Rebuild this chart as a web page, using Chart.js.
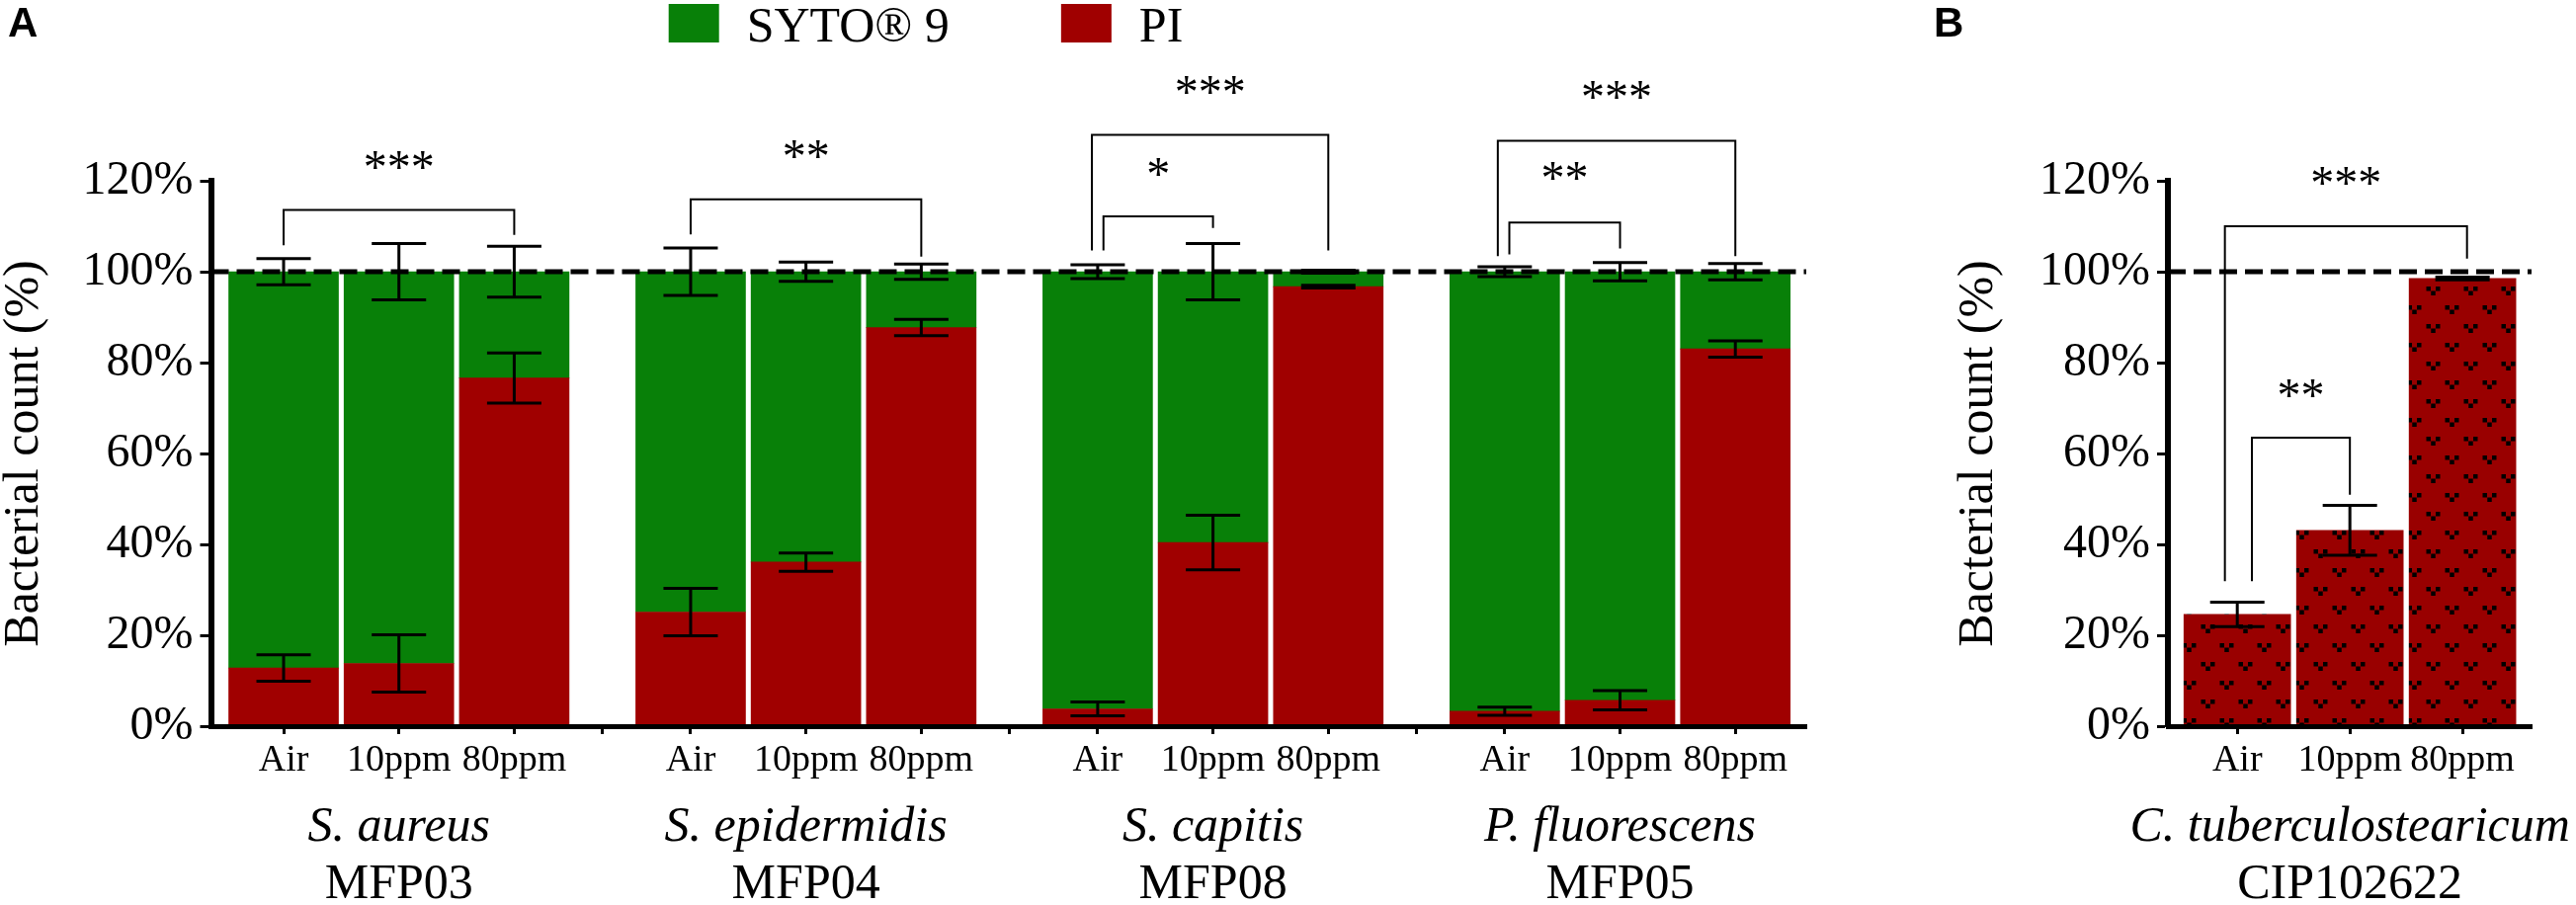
<!DOCTYPE html>
<html>
<head>
<meta charset="utf-8">
<title>Bacterial count - SYTO 9 / PI</title>
<script src="https://cdn.jsdelivr.net/npm/chart.js@4.4.1/dist/chart.umd.min.js"></script>
<style>
  html, body { margin: 0; padding: 0; background: #fff; }
  #wrap { position: relative; width: 2607px; height: 916px; }
  canvas { position: absolute; top: 0; }
  #chartA { left: 0; }
  #chartB { left: 1940px; }
</style>
</head>
<body>
<div id="wrap">
  <canvas id="chartA" width="1940" height="916"></canvas>
  <canvas id="chartB" width="667" height="916"></canvas>
</div>
<script>
// === Data (percent of total count) ===
const treatments = ['Air', '10ppm', '80ppm'];
const speciesA = ['S. aureus', 'S. epidermidis', 'S. capitis', 'P. fluorescens'];
const strainsA = ['MFP03', 'MFP04', 'MFP08', 'MFP05'];

// panel A, 4 strains x 3 treatments, PI stacked under SYTO 9
const piA      = [12.8, 13.8, 76.6, 25.1, 36.1, 87.7, 3.8, 40.4, 96.7, 3.3, 5.7, 83.0];
const piErrA   = [2.9, 6.3, 5.5, 5.2, 2.0, 1.8, 1.5, 6.0, 0.3, 0.9, 2.1, 1.8];
const sytoA    = [87.2, 86.2, 23.4, 74.9, 63.9, 12.3, 96.2, 59.6, 3.3, 96.7, 94.3, 17.0];
const sytoErrA = [2.9, 6.2, 5.6, 5.2, 2.1, 1.7, 1.5, 6.2, 0.3, 1.1, 2.0, 1.8];

// panel B, PI only
const speciesB = 'C. tuberculostearicum';
const strainB = 'CIP102622';
const piB    = [24.6, 43.1, 98.5];
const piErrB = [2.7, 5.5, 0.3];

// significance brackets: bar indices, bar top and leg ends in %, star label height in %
const bracketsA = [
  { from: 0, to: 2, top: 113.6, endL: 105.8, endR: 108.1, stars: '***', starY: 124.5 },
  { from: 3, to: 5, top: 115.9, endL: 108.2, endR: 103.3, stars: '**',  starY: 126.8 },
  { from: 6, to: 8, dl: -0.05, top: 130.1, endL: 104.7, endR: 104.7, stars: '***', starY: 141.0 },
  { from: 6, to: 7, dl: 0.05,  top: 112.2, endL: 104.7, endR: 109.6, stars: '*',   starY: 123.0 },
  { from: 9, to: 11, dl: -0.06, top: 128.8, endL: 103.4, endR: 103.4, stars: '***', starY: 140.0 },
  { from: 9, to: 10, dl: 0.04,  top: 110.8, endL: 103.8, endR: 105.1, stars: '**',  starY: 122.0 }
];
const bracketsB = [
  { from: 0, to: 2, dl: -0.11, dr: 0.04, top: 110.0, endL: 31.9, endR: 102.9, stars: '***', starY: 120.9 },
  { from: 0, to: 1, dl: 0.13, top: 63.5, endL: 31.9, endR: 50.9, stars: '**', starY: 74.3 }
];

// === Style ===
const SERIF = "'Liberation Serif', 'Times New Roman', serif";
const SANS = "'Liberation Sans', Arial, sans-serif";
const GREEN = '#088008';
const RED = '#a00000';
const RED_B = '#990000';
const CAP = 55;
const GROUP_STEP = 3.53;   // distance between groups, in bar widths

Chart.defaults.font.family = SERIF;
Chart.defaults.color = '#000';

// bar position on the linear x axis
const xA = i => Math.floor(i / 3) * GROUP_STEP + (i % 3);

// ticks under every bar plus one in each gap between groups
const tickValsA = [];
const tickTextA = [];
speciesA.forEach((s, g) => {
  treatments.forEach((t, b) => { tickValsA.push(g * GROUP_STEP + b); tickTextA.push(t); });
  if (g < speciesA.length - 1) { tickValsA.push(g * GROUP_STEP + (2 + GROUP_STEP) / 2); tickTextA.push(''); }
});

// === Pattern for panel B bars ===
function chevronPattern() {
  const c = document.createElement('canvas');
  c.width = 38; c.height = 38;
  const g = c.getContext('2d');
  g.fillStyle = RED_B;
  g.fillRect(0, 0, 38, 38);
  g.fillStyle = '#000';
  [[9.5, 9.5], [28.5, 28.5]].forEach(([cx, cy]) => {
    g.fillRect(cx - 7, cy - 4.5, 4.5, 4.5);
    g.fillRect(cx + 2.5, cy - 4.5, 4.5, 4.5);
    g.fillRect(cx - 2.25, cy, 4.5, 4.5);
  });
  return g.createPattern(c, 'repeat');
}

// === Drawing helpers ===
function drawErr(ctx, x, y, pos, mean, err) {
  const px = x.getPixelForValue(pos);
  const top = y.getPixelForValue(mean + err);
  const bot = y.getPixelForValue(mean - err);
  ctx.beginPath();
  ctx.moveTo(px, top); ctx.lineTo(px, bot);
  ctx.moveTo(px - CAP / 2, top); ctx.lineTo(px + CAP / 2, top);
  ctx.moveTo(px - CAP / 2, bot); ctx.lineTo(px + CAP / 2, bot);
  ctx.stroke();
}

function drawDashed(chart) {
  const { ctx, chartArea, scales: { y } } = chart;
  const py = y.getPixelForValue(100);
  ctx.save();
  ctx.strokeStyle = '#000';
  ctx.lineWidth = 5;
  ctx.setLineDash([18, 8]);
  ctx.beginPath();
  ctx.moveTo(chartArea.left, py);
  ctx.lineTo(chartArea.right, py);
  ctx.stroke();
  ctx.restore();
}

function drawBrackets(chart, list, posOf) {
  const { ctx, scales: { x, y } } = chart;
  ctx.save();
  ctx.strokeStyle = '#000';
  ctx.lineWidth = 2;
  ctx.fillStyle = '#000';
  ctx.font = '48px ' + SERIF;
  ctx.textAlign = 'center';
  ctx.textBaseline = 'alphabetic';
  list.forEach(b => {
    const xl = x.getPixelForValue(posOf(b.from) + (b.dl || 0));
    const xr = x.getPixelForValue(posOf(b.to) + (b.dr || 0));
    const yt = y.getPixelForValue(b.top);
    ctx.beginPath();
    ctx.moveTo(xl, y.getPixelForValue(b.endL));
    ctx.lineTo(xl, yt);
    ctx.lineTo(xr, yt);
    ctx.lineTo(xr, y.getPixelForValue(b.endR));
    ctx.stroke();
    ctx.fillText(b.stars, (xl + xr) / 2, y.getPixelForValue(b.starY) + 0.47 * 48);
  });
  ctx.restore();
}

function drawGroupLabel(ctx, cx, species, strain) {
  ctx.textAlign = 'center';
  ctx.textBaseline = 'alphabetic';
  ctx.font = 'italic 50px ' + SERIF;
  ctx.fillText(species, cx, 851);
  ctx.font = '50px ' + SERIF;
  ctx.fillText(strain, cx, 909);
}

function drawPanelLetter(ctx, letter, x) {
  ctx.font = 'bold 42px ' + SANS;
  ctx.textAlign = 'left';
  ctx.textBaseline = 'alphabetic';
  ctx.fillText(letter, x, 37);
}

// === Shared axis options ===
function yScale(width, titlePad) {
  return {
    stacked: true,
    min: 0,
    max: 120,
    afterFit: s => { s.width = width; },
    ticks: { stepSize: 20, padding: 7, font: { family: SERIF, size: 48 }, callback: v => v + '%' },
    grid: { drawOnChartArea: false, tickLength: 11, tickWidth: 3, tickColor: '#000' },
    border: { display: true, color: '#000', width: 6, z: 1 },
    title: {
      display: true,
      text: 'Bacterial count (%)',
      font: { family: SERIF, size: 50, lineHeight: 1 },
      padding: { top: titlePad, bottom: 0 }
    }
  };
}

function xScale(min, max, vals, texts) {
  return {
    type: 'linear',
    stacked: true,
    min: min,
    max: max,
    offset: false,
    afterFit: s => { s.height = 181; },
    afterBuildTicks: s => { s.ticks = vals.map(v => ({ value: v })); },
    ticks: {
      autoSkip: false,
      maxRotation: 0,
      padding: 4,
      font: { family: SERIF, size: 38, lineHeight: 1.2 },
      callback: (v, i) => texts[i]
    },
    grid: { offset: false, drawOnChartArea: false, tickLength: 8, tickWidth: 3, tickColor: '#000' },
    border: { display: true, color: '#000', width: 5, z: 1 }
  };
}

// === Panel A: stacked SYTO 9 / PI ===
const panelA = {
  id: 'panelA',
  afterDatasetsDraw(chart) {
    const { ctx, scales: { x, y } } = chart;
    ctx.save();
    ctx.strokeStyle = '#000';
    ctx.lineWidth = 3;
    piA.forEach((v, i) => {
      drawErr(ctx, x, y, xA(i), v, piErrA[i]);
      drawErr(ctx, x, y, xA(i), v + sytoA[i], sytoErrA[i]);
    });
    ctx.restore();
    drawDashed(chart);
    drawBrackets(chart, bracketsA, xA);
  },
  afterDraw(chart) {
    const { ctx, scales: { x } } = chart;
    ctx.save();
    ctx.fillStyle = '#000';
    speciesA.forEach((s, g) => drawGroupLabel(ctx, x.getPixelForValue(xA(g * 3 + 1)), s, strainsA[g]));
    drawPanelLetter(ctx, 'A', 8);

    // legend, SYTO 9 first
    const items = chart.data.datasets.slice().reverse();
    ctx.font = '50px ' + SERIF;
    ctx.textBaseline = 'alphabetic';
    ctx.textAlign = 'left';
    const boxW = 51, boxH = 39, textGap = 28, itemGap = 113;
    const widths = items.map(d => boxW + textGap + ctx.measureText(d.label).width);
    const total = widths.reduce((a, b) => a + b, 0) + itemGap * (items.length - 1);
    let lx = 937 - total / 2;
    items.forEach((d, k) => {
      ctx.fillStyle = d.backgroundColor;
      ctx.fillRect(lx, 4, boxW, boxH);
      ctx.fillStyle = '#000';
      ctx.fillText(d.label, lx + boxW + textGap, 42);
      lx += widths[k] + itemGap;
    });
    ctx.restore();
  }
};

new Chart(document.getElementById('chartA'), {
  type: 'bar',
  data: {
    datasets: [
      { label: 'PI', data: piA.map((v, i) => ({ x: xA(i), y: v })), backgroundColor: RED, barThickness: 111, borderWidth: 0 },
      { label: 'SYTO® 9', data: sytoA.map((v, i) => ({ x: xA(i), y: v })), backgroundColor: GREEN, barThickness: 111, borderWidth: 0 }
    ]
  },
  options: {
    responsive: false,
    animation: false,
    devicePixelRatio: 1,
    events: [],
    layout: { padding: { top: 183, right: 112, bottom: 0, left: 0 } },
    plugins: { legend: { display: false }, tooltip: { enabled: false } },
    scales: {
      x: xScale(-0.63, 3 * GROUP_STEP + 2 + 0.615, tickValsA, tickTextA),
      y: yScale(213.5, 0)
    }
  },
  plugins: [panelA]
});

// === Panel B: PI only, patterned bars ===
const xB = i => i;
const panelB = {
  id: 'panelB',
  afterDatasetsDraw(chart) {
    const { ctx, scales: { x, y } } = chart;
    ctx.save();
    ctx.strokeStyle = '#000';
    ctx.lineWidth = 3;
    piB.forEach((v, i) => drawErr(ctx, x, y, xB(i), v, piErrB[i]));
    ctx.restore();
    drawDashed(chart);
    drawBrackets(chart, bracketsB, xB);
  },
  afterDraw(chart) {
    const { ctx, scales: { x } } = chart;
    ctx.save();
    ctx.fillStyle = '#000';
    drawGroupLabel(ctx, x.getPixelForValue(1), speciesB, strainB);
    drawPanelLetter(ctx, 'B', 17);
    ctx.restore();
  }
};

new Chart(document.getElementById('chartB'), {
  type: 'bar',
  data: {
    datasets: [
      { label: 'PI', data: piB.map((v, i) => ({ x: xB(i), y: v })), backgroundColor: chevronPattern(), barThickness: 108, borderWidth: 0 }
    ]
  },
  options: {
    responsive: false,
    animation: false,
    devicePixelRatio: 1,
    events: [],
    layout: { padding: { top: 183, right: 45, bottom: 0, left: 0 } },
    plugins: { legend: { display: false }, tooltip: { enabled: false } },
    scales: {
      x: xScale(-0.616, 2.613, [0, 1, 2], treatments),
      y: yScale(254, 38)
    }
  },
  plugins: [panelB]
});
</script>
</body>
</html>
